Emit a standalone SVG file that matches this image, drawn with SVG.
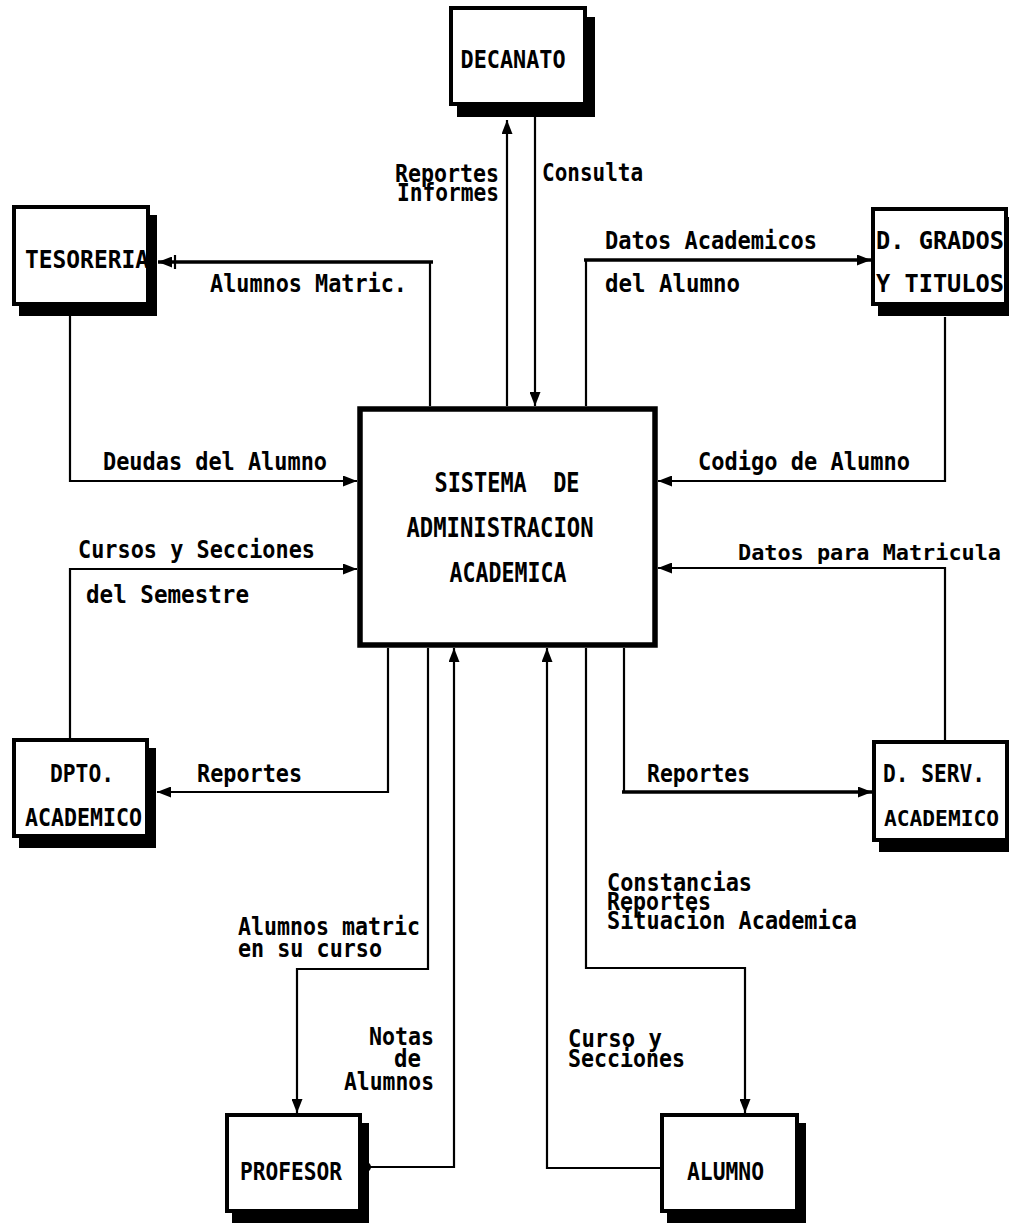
<svg xmlns="http://www.w3.org/2000/svg" width="1009" height="1224" viewBox="0 0 1009 1224">
  <style>
    .shadow { fill: #000; }
    .box { fill: #fff; stroke: #000; stroke-width: 4; }
    .core { fill: #fff; stroke: #000; stroke-width: 5.5; }
    .flow { fill: none; stroke: #000; stroke-width: 2.2; stroke-linejoin: miter; }
    .thick { stroke-width: 3.6; }
    text { font-family: "DejaVu Sans Mono", "Liberation Mono", monospace; font-weight: bold; fill: #000; }
    .lbl { font-size: 24px; }
    .name { font-size: 24px; }
    .tight { font-size: 22px; }
    .title { font-size: 26px; text-anchor: middle; }
    .end { text-anchor: end; }
    .mid { text-anchor: middle; }
  </style>
  <defs>
    <marker id="arrow" viewBox="0 0 14 11" refX="14" refY="5.5" markerWidth="14" markerHeight="11" markerUnits="userSpaceOnUse" orient="auto">
      <path d="M0,0 L14,5.5 L0,11 Z" fill="#000"/>
    </marker>
  </defs>

  <rect width="1009" height="1224" fill="#fff"/>

  <!-- Central process -->
  <g id="sistema">
    <rect class="core" x="360" y="409" width="295" height="236"/>
    <text class="title" x="507" y="492" textLength="145" lengthAdjust="spacingAndGlyphs" style="white-space:pre">SISTEMA  DE</text>
    <text class="title" x="500" y="537" textLength="187" lengthAdjust="spacingAndGlyphs">ADMINISTRACION</text>
    <text class="title" x="508" y="582" textLength="117" lengthAdjust="spacingAndGlyphs">ACADEMICA</text>
  </g>

  <!-- External entities -->
  <g id="decanato">
    <rect class="shadow" x="457" y="17" width="138" height="100"/>
    <rect class="box" x="451" y="8" width="134" height="96"/>
    <text class="name mid" x="513" y="68" textLength="105" lengthAdjust="spacingAndGlyphs">DECANATO</text>
  </g>
  <g id="tesoreria">
    <rect class="shadow" x="19" y="215" width="138" height="101"/>
    <rect class="box" x="14" y="207" width="134" height="97"/>
    <text class="name" x="25" y="268" textLength="124" lengthAdjust="spacingAndGlyphs">TESORERIA</text>
  </g>
  <g id="grados">
    <rect class="shadow" x="878" y="217" width="137" height="99"/>
    <rect class="box" x="873" y="209" width="133" height="95"/>
    <text class="name" x="876" y="249" textLength="128" lengthAdjust="spacingAndGlyphs">D. GRADOS</text>
    <text class="name" x="876" y="292" textLength="128" lengthAdjust="spacingAndGlyphs">Y TITULOS</text>
  </g>
  <g id="dpto">
    <rect class="shadow" x="19" y="748" width="137" height="100"/>
    <rect class="box" x="14" y="740" width="133" height="96"/>
    <text class="name" x="50" y="782" textLength="64" lengthAdjust="spacingAndGlyphs">DPTO.</text>
    <text class="name" x="25" y="826" textLength="117" lengthAdjust="spacingAndGlyphs">ACADEMICO</text>
  </g>
  <g id="servicios">
    <rect class="shadow" x="879" y="750" width="137" height="102"/>
    <rect class="box" x="874" y="742" width="133" height="98"/>
    <text class="name" x="883" y="782" textLength="102" lengthAdjust="spacingAndGlyphs">D. SERV.</text>
    <text class="name tight" x="884" y="826" textLength="115" lengthAdjust="spacingAndGlyphs">ACADEMICO</text>
  </g>
  <g id="profesor">
    <rect class="shadow" x="232" y="1123" width="137" height="100"/>
    <rect class="box" x="227" y="1115" width="133" height="96"/>
    <text class="name" x="240" y="1180" textLength="102" lengthAdjust="spacingAndGlyphs">PROFESOR</text>
  </g>
  <g id="alumno">
    <rect class="shadow" x="667" y="1123" width="139" height="100"/>
    <rect class="box" x="662" y="1115" width="135" height="96"/>
    <text class="name" x="687" y="1180" textLength="77" lengthAdjust="spacingAndGlyphs">ALUMNO</text>
  </g>

  <!-- Data flows -->
  <g id="connectors">
    <path class="flow" d="M507,406 V120" marker-end="url(#arrow)"/>
    <path class="flow" d="M535,117 V406" marker-end="url(#arrow)"/>
    <path class="flow" d="M430,406 V262"/>
    <path class="flow thick" d="M433,262 H158" marker-end="url(#arrow)"/>
    <path class="flow" d="M175,255 V269"/>
    <path class="flow" d="M70,316 V481 H357" marker-end="url(#arrow)"/>
    <path class="flow" d="M586,406 V260"/>
    <path class="flow thick" d="M584,260 H871" marker-end="url(#arrow)"/>
    <path class="flow" d="M945,317 V481 H658" marker-end="url(#arrow)"/>
    <path class="flow" d="M945,740 V568 H658" marker-end="url(#arrow)"/>
    <path class="flow" d="M70,738 V569 H357" marker-end="url(#arrow)"/>
    <path class="flow" d="M388,648 V792 H157" marker-end="url(#arrow)"/>
    <path class="flow" d="M624,648 V792"/>
    <path class="flow thick" d="M622,792 H872" marker-end="url(#arrow)"/>
    <path class="flow" d="M428,648 V969 H297 V1113" marker-end="url(#arrow)"/>
    <path class="flow" d="M363,1167 H454 V648" marker-end="url(#arrow)"/>
    <circle cx="366" cy="1167" r="5" fill="#000"/>
    <path class="flow" d="M662,1168 H547 V648" marker-end="url(#arrow)"/>
    <path class="flow" d="M586,648 V968 H745 V1113" marker-end="url(#arrow)"/>
  </g>

  <!-- Flow labels -->
  <g id="labels">
    <text class="lbl end" x="499" y="182" textLength="104" lengthAdjust="spacingAndGlyphs">Reportes</text>
    <text class="lbl end" x="499" y="201" textLength="102" lengthAdjust="spacingAndGlyphs">Informes</text>
    <text class="lbl" x="542" y="181" textLength="101" lengthAdjust="spacingAndGlyphs">Consulta</text>
    <text class="lbl" x="210" y="292" textLength="197" lengthAdjust="spacingAndGlyphs">Alumnos Matric.</text>
    <text class="lbl" x="605" y="249" textLength="212" lengthAdjust="spacingAndGlyphs">Datos Academicos</text>
    <text class="lbl" x="605" y="292" textLength="135" lengthAdjust="spacingAndGlyphs">del Alumno</text>
    <text class="lbl" x="103" y="470" textLength="224" lengthAdjust="spacingAndGlyphs">Deudas del Alumno</text>
    <text class="lbl" x="698" y="470" textLength="212" lengthAdjust="spacingAndGlyphs">Codigo de Alumno</text>
    <text class="lbl" x="78" y="558" textLength="237" lengthAdjust="spacingAndGlyphs">Cursos y Secciones</text>
    <text class="lbl" x="86" y="603" textLength="163" lengthAdjust="spacingAndGlyphs">del Semestre</text>
    <text class="lbl tight" x="738" y="560" textLength="263" lengthAdjust="spacingAndGlyphs">Datos para Matricula</text>
    <text class="lbl" x="197" y="782" textLength="105" lengthAdjust="spacingAndGlyphs">Reportes</text>
    <text class="lbl" x="647" y="782" textLength="103" lengthAdjust="spacingAndGlyphs">Reportes</text>
    <text class="lbl" x="607" y="891" textLength="145" lengthAdjust="spacingAndGlyphs">Constancias</text>
    <text class="lbl" x="607" y="910" textLength="104" lengthAdjust="spacingAndGlyphs">Reportes</text>
    <text class="lbl" x="607" y="929" textLength="250" lengthAdjust="spacingAndGlyphs">Situacion Academica</text>
    <text class="lbl" x="238" y="935" textLength="182" lengthAdjust="spacingAndGlyphs">Alumnos matric</text>
    <text class="lbl" x="238" y="957" textLength="144" lengthAdjust="spacingAndGlyphs">en su curso</text>
    <text class="lbl end" x="434" y="1045" textLength="65" lengthAdjust="spacingAndGlyphs">Notas</text>
    <text class="lbl" x="394" y="1067" textLength="27" lengthAdjust="spacingAndGlyphs">de</text>
    <text class="lbl end" x="434" y="1090" textLength="90" lengthAdjust="spacingAndGlyphs">Alumnos</text>
    <text class="lbl" x="568" y="1047" textLength="94" lengthAdjust="spacingAndGlyphs">Curso y</text>
    <text class="lbl" x="568" y="1067" textLength="117" lengthAdjust="spacingAndGlyphs">Secciones</text>
  </g>
</svg>
